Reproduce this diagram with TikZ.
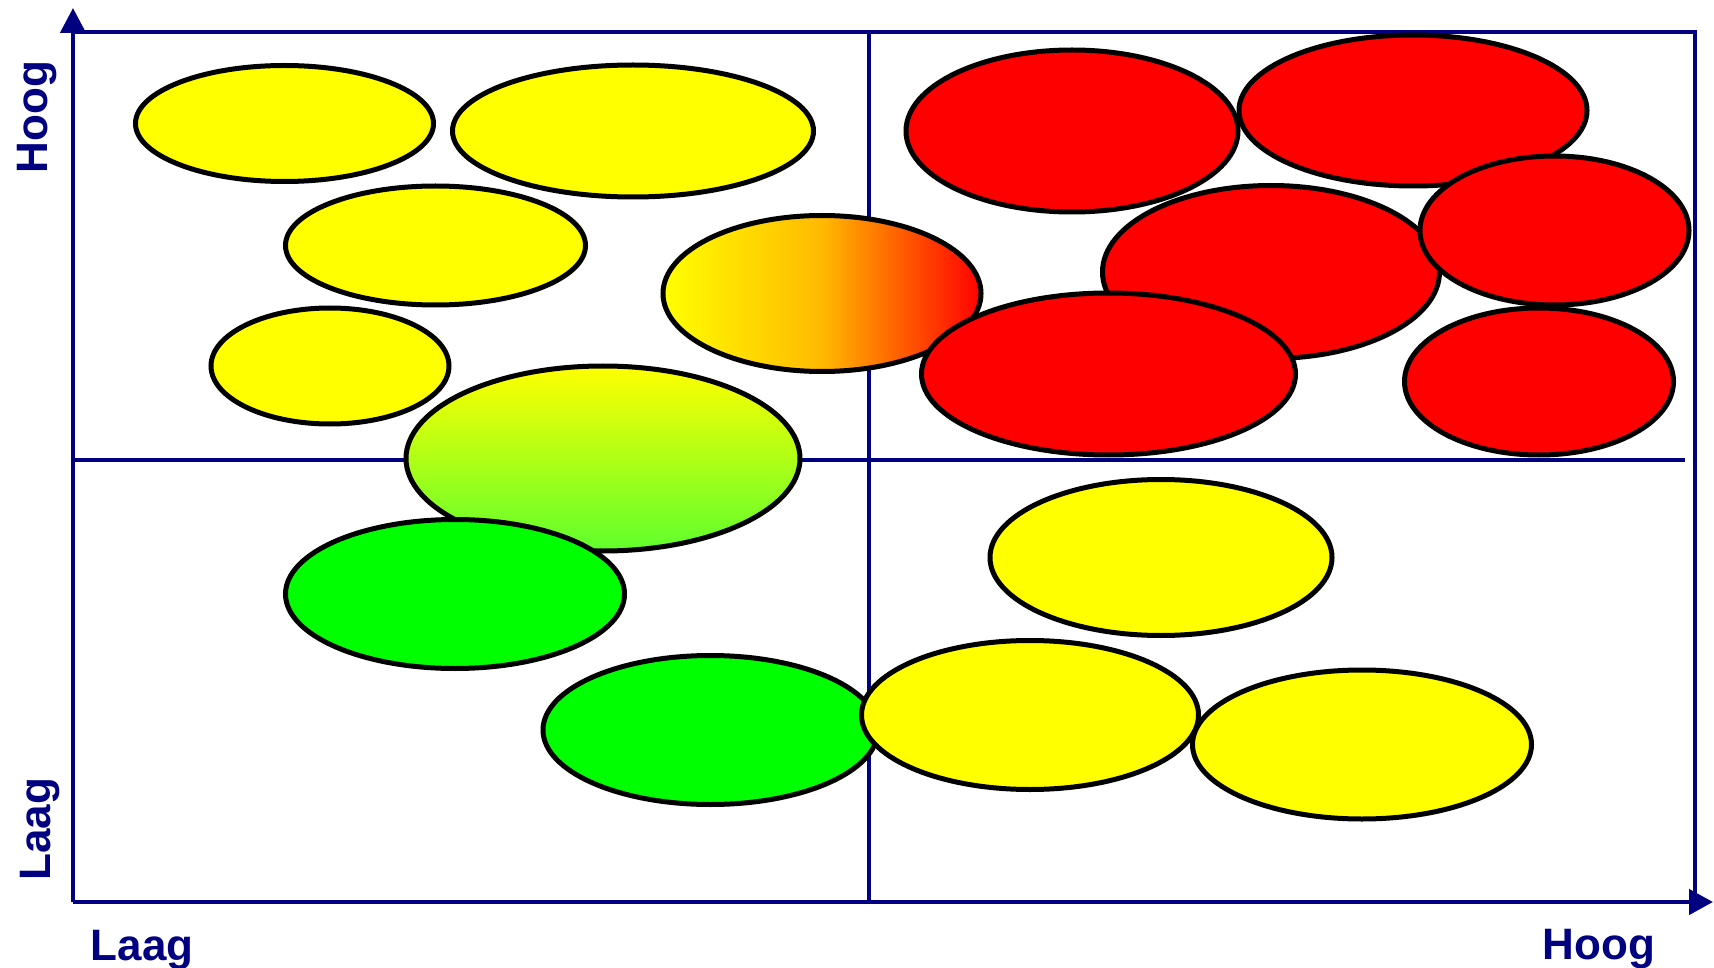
\documentclass[tikz,border=0pt]{standalone}
\usepackage{fontspec}
\setmainfont{Liberation Sans}
\usetikzlibrary{shapes.geometric,arrows.meta}
\definecolor{axisblue}{RGB}{0,0,128}
\definecolor{gyel}{RGB}{255,255,0}
\definecolor{gred}{RGB}{255,0,0}
\definecolor{ggrn}{RGB}{0,255,0}
\definecolor{gorange}{RGB}{255,185,0}
\definecolor{glgrn}{RGB}{95,255,45}
\begin{document}
\begin{tikzpicture}[x=0.5pt,y=-0.5pt,
  blob/.style={ellipse,draw=black,line width=2.5pt,inner sep=0pt},
  yelblob/.style={blob,fill=gyel},
  redblob/.style={blob,fill=gred},
  grnblob/.style={blob,fill=ggrn},
  axisline/.style={draw=axisblue,line width=2.3pt},
  axislabel/.style={text=axisblue,font=\bfseries\fontsize{22}{26}\selectfont,inner sep=0pt}]
\useasboundingbox (0,0) rectangle (1714,968);
% frame and axes
\coordinate (o) at (73,902);
\coordinate (ytip) at (73,8);
\coordinate (xtip) at (1713,902);
\coordinate (tl) at (73,32);
\coordinate (tr) at (1695,32);
\coordinate (br) at (1695,902);
\coordinate (mt) at (869,32);
\coordinate (mb) at (869,902);
\coordinate (ml) at (73,460);
\coordinate (mr) at (1685,460);
\draw[axisline] (tl) -- (tr) -- (br);
\draw[axisline] (mt) -- (mb);
\draw[axisline] (ml) -- (mr);
\draw[axisline,-{Triangle[length=12.5pt,width=12.5pt]}] (o) -- (ytip);
\draw[axisline,-{Triangle[length=12pt,width=12.5pt]}] (o) -- (xtip);
% labels
\node[axislabel,rotate=90,anchor=base] (yhigh) at (47,117) {Hoog};
\node[axislabel,rotate=90,anchor=base] (ylow) at (50,829) {Laag};
\node[axislabel,anchor=base] (xlow) at (142,960) {Laag};
\node[axislabel,anchor=base] (xhigh) at (1599,959) {Hoog};
% yellow / gradient / green ellipses
\node[yelblob,minimum width=149pt,minimum height=58pt] (e1) at (284.5,123.5) {};
\node[yelblob,minimum width=180.5pt,minimum height=66pt] (e2) at (633,131) {};
\node[yelblob,minimum width=150pt,minimum height=59.5pt] (e3) at (435.5,245.5) {};
\node[yelblob,minimum width=119pt,minimum height=58pt] (e4) at (330,366) {};
\node[blob,left color=gyel,right color=gred,middle color=gorange,minimum width=159pt,minimum height=78pt] (e5) at (822,293.5) {};
\node[blob,top color=gyel,bottom color=glgrn,minimum width=197pt,minimum height=92.5pt] (e6) at (603,458.5) {};
\node[grnblob,minimum width=169.5pt,minimum height=74.5pt] (e7) at (455,594) {};
\node[grnblob,minimum width=167.5pt,minimum height=74.5pt] (e8) at (710.5,730) {};
\node[yelblob,minimum width=171pt,minimum height=78pt] (e9) at (1161,557.5) {};
\node[yelblob,minimum width=168.5pt,minimum height=74.5pt] (e10) at (1030,715) {};
\node[yelblob,minimum width=169.5pt,minimum height=74.5pt] (e11) at (1362,744.5) {};
% red ellipses
\node[redblob,minimum width=166pt,minimum height=81pt] (e12) at (1072,131) {};
\node[redblob,minimum width=168.5pt,minimum height=86.5pt] (e14) at (1271,272) {};
\node[redblob,minimum width=174pt,minimum height=75.5pt] (e13) at (1413,110.5) {};
\node[redblob,minimum width=134.5pt,minimum height=74.5pt] (e15) at (1554.5,230.5) {};
\node[redblob,minimum width=187pt,minimum height=81pt] (e16) at (1108.5,374) {};
\node[redblob,minimum width=134.5pt,minimum height=73.5pt] (e17) at (1539,381.5) {};
\end{tikzpicture}
\end{document}
